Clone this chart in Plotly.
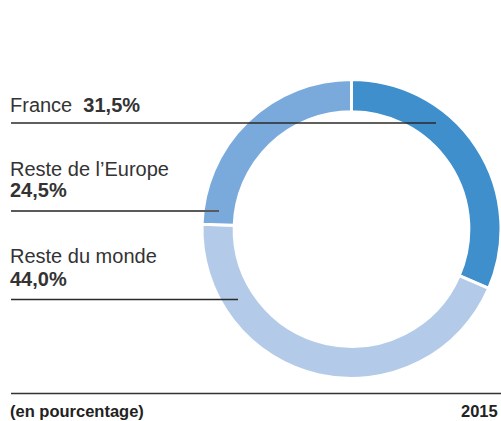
import plotly.graph_objects as go

# Data (clockwise order from 12 o'clock)
regions = ["France", "Reste du monde", "Reste de l\u2019Europe"]
shares = [31.5, 44.0, 24.5]
share_labels = ["31,5%", "44,0%", "24,5%"]
colors = ["#3f8fcd", "#b3cbe9", "#7aaadb"]
year_label = "2015"
unit_label = "(en pourcentage)"

W, H = 501, 421

def px(x):
    return x / W

def py(y):
    return 1 - y / H

fig = go.Figure()
fig.add_trace(go.Pie(
    labels=regions,
    values=shares,
    sort=False,
    direction="clockwise",
    rotation=0,
    hole=0.785,
    marker=dict(colors=colors, line=dict(color="white", width=3)),
    textinfo="none",
    hoverinfo="label+percent",
    showlegend=False,
    domain=dict(x=[px(202), 1.0], y=[py(379), py(79)]),
))

FAM = "Liberation Sans, Arial, Helvetica, sans-serif"
font_reg = dict(family=FAM, size=20, color="#333333")
font_small = dict(family=FAM, size=16.5, color="#222222")

annotations = []
def add_text(text, x, y_baseline, font, xanchor="left"):
    annotations.append(dict(
        text=text, x=px(x), y=py(y_baseline + font["size"] * 0.22),
        xref="paper", yref="paper", xanchor=xanchor, yanchor="bottom",
        showarrow=False, font=font, borderpad=0, borderwidth=0,
    ))

add_text(regions[0] + "&nbsp;&nbsp;<b>" + share_labels[0] + "</b>", 10, 112, font_reg)
add_text(regions[2], 10, 176, font_reg)
add_text("<b>" + share_labels[2] + "</b>", 10, 197, font_reg)
add_text(regions[1], 10, 263, font_reg)
add_text("<b>" + share_labels[1] + "</b>", 10, 286, font_reg)
add_text("<b>" + unit_label + "</b>", 10, 416, font_small)
add_text("<b>" + year_label + "</b>", 498, 416, font_small, xanchor="right")

shapes = []
def add_line(x0, x1, y, color, width):
    shapes.append(dict(type="line", xref="paper", yref="paper",
                       x0=px(x0), x1=px(x1), y0=py(y), y1=py(y),
                       line=dict(color=color, width=width), layer="above"))

add_line(11, 436, 123, "#2a2a2a", 1.5)
add_line(11, 219, 211, "#5a5a5a", 2)
add_line(11, 238, 299.5, "#2a2a2a", 1.5)
add_line(11, 501, 393.5, "#333333", 1.5)

fig.update_layout(
    width=W, height=H,
    margin=dict(l=0, r=0, t=0, b=0),
    paper_bgcolor="white", plot_bgcolor="white",
    annotations=annotations, shapes=shapes,
)

fig.write_html(
    "out.html",
    config={"displayModeBar": False},
    post_script="document.body.style.margin='0px';document.body.style.overflow='hidden';",
)
